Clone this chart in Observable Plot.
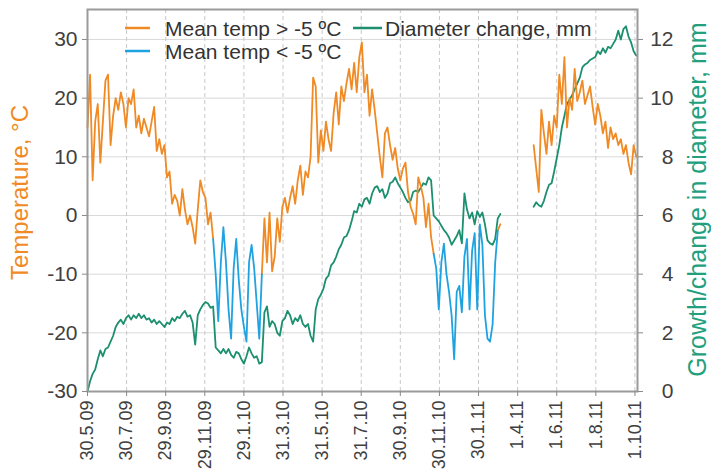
<!DOCTYPE html>
<html>
<head>
<meta charset="utf-8">
<script src="https://cdn.jsdelivr.net/npm/d3@7"></script>
<script src="https://cdn.jsdelivr.net/npm/@observablehq/plot@0.6"></script>
<style>
  html, body { margin: 0; padding: 0; background: #fff; }
  #wrap { position: relative; width: 711px; height: 472px; font-family: "Liberation Sans", Arial, sans-serif; }
  #legend { position: absolute; left: 0; top: 0; pointer-events: none; }
</style>
</head>
<body>
<div id="wrap"></div>
<script>
// ---- Data (daily series sampled every 4 days from 30.5.2009) ----
const seriesStart = "2009-05-30";
const stepDays = 4;

// Mean daily temperature, °C
const temperature = [
  15, 24, 6, 16, 19, 9, 16, 23, 24, 12,
  17, 20, 18, 21, 19, 15, 20, 19, 21.5, 15,
  17, 14, 16.5, 15, 13.5, 16, 18.5, 11, 13, 10.5,
  12, 6.5, 7.5, 2, 3.5, 2.5, 0, 4.5, 1, -1.5,
  0, -2, -4.8, 1, 6, 4, 3, -1.5, 0.5, -4,
  -10, -18, -8, -2, -8, -16, -21, -9, -4, -11,
  -16, -19, -21.5, -8, -5, -9, -15, -21, -10, -0.5,
  -8, 0.5, -9.5, -7, -0.5, -4.5, 1.5, 3, 0.5, 3,
  5, 2, 6, 8.5, 3.5, 7.5, 6.5, 10, 23.5, 22,
  9, 14.5, 11, 16, 13, 11, 17.5, 21, 15.5, 22,
  19.5, 22.5, 25, 21.5, 26, 21, 27, 29.5, 21, 24,
  17, 21.5, 18, 14, 10, 6.5, 14, 15, 12, 9.5,
  11.5, 8, 6, 8, 9, 4, 1.5, 0.3, -1.5, 6.5,
  5, 3, -2, 2, -3.7, -6.5, -9, -16, -8, -4.8,
  -10, -13, -17, -24.5, -13, -12, -16.5, -7, -4, -16,
  -6, -3, -16, -1.5, -5, -17, -21, -21.5, -18.5, -8,
  -2.6, -1.5, null, null, null, null, null, null, null, null,
  null, null, null, null, 12, 8, 4, 18, 14, 10.5,
  16, 12, 17, 15, 24, 19, 27, 15, 20, 18,
  25, 19.5, 21, 23, 19, 20.5, 22, 18.5, 15.5, 19,
  17, 14, 16, 11.5, 15, 13, 14, 12, 13, 10.5,
  12, 9, 7, 12, 10
];

// Stem diameter change, mm
const diameter = [
  0, 0.35, 0.6, 0.75, 1.1, 1.4, 1.2, 1.45, 1.5, 1.7,
  1.9, 2.2, 2.35, 2.45, 2.3, 2.5, 2.6, 2.45, 2.6, 2.5,
  2.65, 2.5, 2.6, 2.45, 2.5, 2.35, 2.45, 2.3, 2.4, 2.3,
  2.2, 2.35, 2.3, 2.5, 2.4, 2.55, 2.5, 2.65, 2.75, 2.55,
  2.6, 2.35, 1.6, 2.6, 2.8, 2.95, 3.05, 3.0, 2.85, 2.9,
  1.5, 1.4, 1.3, 1.45, 1.3, 1.45, 1.25, 1.15, 1.35, 1.3,
  1.1, 0.95, 1.2, 1.5, 1.3, 1.15, 1.2, 0.95, 1.0, 2.7,
  2.9, 2.2, 2.4, 2.3, 2.0, 1.9, 2.4, 2.5, 2.75, 2.6,
  2.3, 2.5, 2.4, 2.6, 2.3, 2.2, 2.3, 1.9, 1.7, 2.8,
  3.15, 3.3, 3.5, 3.85, 3.95, 4.3, 4.4, 4.6, 4.85, 5.0,
  5.25, 5.3, 5.5, 5.8, 6.15, 6.1, 6.4, 6.3, 6.55, 6.6,
  6.4, 6.75, 6.95, 7.0, 6.8, 6.9, 6.6, 6.75, 7.1, 7.15,
  7.3, 7.1, 6.95, 6.8, 6.6, 6.45, 6.5, 6.8, 6.85, 6.8,
  6.95, 7.1, 7.05, 7.3, 7.2, 6.0, 5.9, 5.8, 5.65, 5.5,
  5.4, 5.25, 5.0, 5.15, 5.3, 5.5, 5.05, 6.75, 6.2, 5.9,
  6.1, 5.7, 6.15, 5.95, 6.1, 5.7, 5.15, 5.05, 5.0, 5.2,
  5.9, 6.05, null, null, null, null, null, null, null, null,
  null, null, null, null, 6.3, 6.45, 6.35, 6.3, 6.5, 6.8,
  7.05, 7.1, 7.5, 7.95, 8.4, 9.0, 9.4, 9.8, 9.95, 10.1,
  10.3, 10.5, 10.7, 11.05, 11.15, 11.2, 11.3, 11.35, 11.4, 11.6,
  11.5, 11.7, 11.55, 11.75, 11.7, 11.85, 12.0, 12.3, 12.0, 12.35,
  12.45, 12.1, 11.9, 11.6, 11.45
];

// Periods drawn as "Mean temp < -5 ºC"
const coldPeriods = [
  ["2009-12-12", "2010-02-26"],
  ["2010-11-21", "2011-03-01"]
];

// X axis ticks
const xTickDates = ["2009-05-30","2009-07-30","2009-09-29","2009-11-29","2010-01-29","2010-03-31",
  "2010-05-31","2010-07-31","2010-09-30","2010-11-30","2011-01-30","2011-04-01","2011-06-01",
  "2011-08-01","2011-10-01"];
const xTickLabels = ["30.5.09","30.7.09","29.9.09","29.11.09","29.1.10","31.3.10","31.5.10",
  "31.7.10","30.9.10","30.11.10","30.1.11","1.4.11","1.6.11","1.8.11","1.10.11"];
const xDomain = ["2009-05-30", "2011-10-05"];

const tempTicks = [-30, -20, -10, 0, 10, 20, 30];
const diamTicks = [0, 2, 4, 6, 8, 10, 12];

const legendLabels = ["Mean temp > -5 ºC", "Mean temp < -5 ºC", "Diameter change, mm"];
const yTitleLeft = "Temperature, °C";
const yTitleRight = "Growth/change in diameter, mm";

// ---- Styling ----
const ORANGE = "#F08A24", BLUE = "#1FA3E0", GREEN = "#1B8F6E", GREEN_T = "#22A07E";
const FONT = "'Liberation Sans', Arial, sans-serif";

// ---- Build table ----
const DAY = 86400000;
const t0 = Date.parse(seriesStart + "T00:00:00Z");
const cold = coldPeriods.map(([a, b]) => [Date.parse(a + "T00:00:00Z"), Date.parse(b + "T00:00:00Z")]);
const rows = temperature.map((t, i) => {
  const ms = t0 + i * stepDays * DAY;
  const inside = cold.some(([a, b]) => ms > a && ms < b);
  const onEdge = cold.some(([a, b]) => ms === a || ms === b);
  return {
    date: new Date(ms),
    warm: (t != null && !inside) ? t : null,
    coldT: (t != null && (inside || onEdge)) ? t : null,
    diam: diameter[i]
  };
});

// Diameter is drawn on the secondary axis: 0..12 mm ↔ -30..30 °C
const diamToTemp = d => d * 5 - 30;
const tempToDiam = t => (t + 30) / 5;

const tickDates = xTickDates.map(s => new Date(s + "T00:00:00Z"));
const labelOf = new Map(tickDates.map((d, i) => [+d, xTickLabels[i]]));

const plot = Plot.plot({
  width: 711,
  height: 472,
  marginLeft: 87,
  marginRight: 74,
  marginTop: 9,
  marginBottom: 81,
  style: { fontFamily: FONT, background: "#fff", color: "#404040", overflow: "visible" },
  x: { type: "utc", domain: xDomain.map(s => new Date(s + "T00:00:00Z")) },
  y: { domain: [-30, 35.11] },
  marks: [
    Plot.gridY(tempTicks.filter(t => t > -30), { stroke: "#d9d9d9", strokeOpacity: 1, strokeWidth: 1 }),
    Plot.gridX(tickDates.slice(1), { stroke: "#c8c8c8", strokeOpacity: 1, strokeDasharray: "4,3", strokeWidth: 1 }),
    Plot.line(rows, { x: "date", y: d => d.diam == null ? null : diamToTemp(d.diam), stroke: GREEN, strokeWidth: 1.8 }),
    Plot.line(rows, { x: "date", y: "warm", stroke: ORANGE, strokeWidth: 1.8 }),
    Plot.line(rows, { x: "date", y: "coldT", stroke: BLUE, strokeWidth: 1.8 }),
    Plot.frame({ stroke: "#9a9a9a", strokeWidth: 2 }),
    Plot.axisY({ ticks: tempTicks, tickFormat: d => String(d), tickSize: 5, tickPadding: 5,
      fontSize: 21, label: null, stroke: "#8a8a8a", fill: "#404040" }),
    Plot.axisY({ anchor: "right", ticks: diamTicks.map(diamToTemp), tickFormat: t => String(Math.round(tempToDiam(t))),
      tickSize: 5, tickPadding: 31, textAnchor: "end", fontSize: 21, label: null, stroke: "#8a8a8a", fill: "#404040" }),
    Plot.axisX({ ticks: tickDates, tickFormat: d => labelOf.get(+d), tickRotate: -90, tickSize: 5,
      fontSize: 18, label: null, stroke: "#8a8a8a", fill: "#404040" }),
    Plot.text([yTitleLeft], { text: d => d, frameAnchor: "left", rotate: -90, dx: -67, dy: -8,
      fill: ORANGE, fontSize: 24, textAnchor: "middle", letterSpacing: 1 }),
    Plot.text([yTitleRight], { text: d => d, frameAnchor: "right", rotate: -90, dx: 60, dy: -1,
      fill: GREEN_T, fontSize: 25, textAnchor: "middle" })
  ]
});

const wrap = document.getElementById("wrap");
wrap.appendChild(plot);

// ---- Legend overlay ----
const ns = "http://www.w3.org/2000/svg";
const leg = document.createElementNS(ns, "svg");
leg.setAttribute("id", "legend");
leg.setAttribute("width", 711);
leg.setAttribute("height", 80);
const items = [
  { label: legendLabels[0], color: ORANGE, x: 125, y: 28 },
  { label: legendLabels[1], color: BLUE, x: 125, y: 51 },
  { label: legendLabels[2], color: GREEN, x: 353, y: 28 }
];
items.forEach(it => {
  const ln = document.createElementNS(ns, "line");
  ln.setAttribute("x1", it.x); ln.setAttribute("x2", it.x + (it.x > 300 ? 29 : 25));
  ln.setAttribute("y1", it.y); ln.setAttribute("y2", it.y);
  ln.setAttribute("stroke", it.color); ln.setAttribute("stroke-width", 2.5);
  leg.appendChild(ln);
  const tx = document.createElementNS(ns, "text");
  tx.setAttribute("x", it.x + (it.x > 300 ? 32 : 40));
  tx.setAttribute("y", it.y + 7.5);
  tx.setAttribute("font-family", FONT);
  tx.setAttribute("font-size", 21);
  tx.setAttribute("fill", "#333");
  tx.textContent = it.label;
  leg.appendChild(tx);
});
wrap.appendChild(leg);
</script>
</body>
</html>
